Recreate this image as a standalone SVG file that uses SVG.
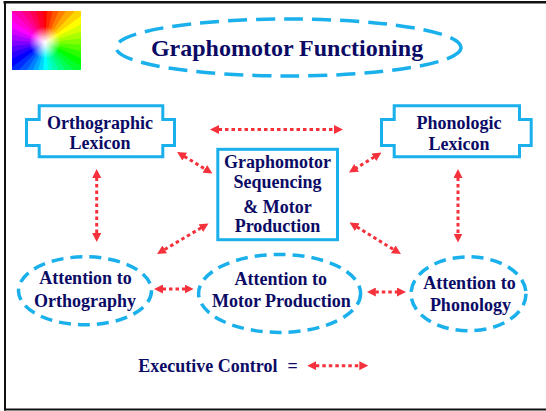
<svg xmlns="http://www.w3.org/2000/svg" xmlns:xlink="http://www.w3.org/1999/xlink" width="546" height="411" viewBox="0 0 546 411">
  <style>
    .lbl { font-family: "Liberation Serif", "Times New Roman", serif; font-weight: bold; fill: #0b0b66; text-anchor: middle; }
    .n18 { font-size: 18px; }
    .box { fill: #ffffff; stroke: #1ab0ec; stroke-width: 3; }
    .oval { fill: #ffffff; stroke: #1ab0ec; stroke-width: 3.5; stroke-dasharray: 12 7; }
    .link { fill: none; stroke: #f5323c; stroke-width: 3; stroke-dasharray: 3.5 3; marker-start: url(#head); marker-end: url(#head); }
  </style>
  <defs>
    <marker id="head" viewBox="0 0 9 9" refX="0.5" refY="4.5" markerWidth="9" markerHeight="9" markerUnits="userSpaceOnUse" orient="auto-start-reverse">
      <path d="M0,0 L9,4.5 L0,9 Z" fill="#f5323c"/>
    </marker>
    <clipPath id="iconClip"><rect x="12" y="11" width="69" height="59"/></clipPath>
    <radialGradient id="iconGlow" cx="45" cy="42.5" r="16" gradientUnits="userSpaceOnUse">
      <stop offset="0" stop-color="#ffffff" stop-opacity="1"/>
      <stop offset="0.35" stop-color="#ffffff" stop-opacity="0.7"/>
      <stop offset="1" stop-color="#ffffff" stop-opacity="0"/>
    </radialGradient>
    <path id="wedge" d="M0,0 L-6.8,-60 L6.8,-60 Z"/>
  </defs>

  <rect width="546" height="411" fill="#ffffff"/>

  <!-- frame -->
  <g id="frame" stroke="#111111" fill="none">
    <line x1="3.5" y1="2.2" x2="546" y2="2.2" stroke-width="2.6"/>
    <line x1="5" y1="1" x2="5" y2="410.5" stroke-width="2"/>
    <line x1="4" y1="409.4" x2="546" y2="409.4" stroke-width="2"/>
  </g>

  <!-- hue wheel logo -->
  <g id="logo" clip-path="url(#iconClip)">
    <rect x="12" y="11" width="69" height="59" fill="#ff00ff"/>
    <g transform="translate(45,42.5)">
      <use xlink:href="#wedge" transform="rotate(0)" fill="hsl(0,100%,50%)"/>
      <use xlink:href="#wedge" transform="rotate(10)" fill="hsl(10,100%,50%)"/>
      <use xlink:href="#wedge" transform="rotate(20)" fill="hsl(20,100%,50%)"/>
      <use xlink:href="#wedge" transform="rotate(30)" fill="hsl(30,100%,50%)"/>
      <use xlink:href="#wedge" transform="rotate(40)" fill="hsl(40,100%,50%)"/>
      <use xlink:href="#wedge" transform="rotate(50)" fill="hsl(50,100%,50%)"/>
      <use xlink:href="#wedge" transform="rotate(60)" fill="hsl(60,100%,50%)"/>
      <use xlink:href="#wedge" transform="rotate(70)" fill="hsl(70,100%,50%)"/>
      <use xlink:href="#wedge" transform="rotate(80)" fill="hsl(80,100%,50%)"/>
      <use xlink:href="#wedge" transform="rotate(90)" fill="hsl(90,100%,50%)"/>
      <use xlink:href="#wedge" transform="rotate(100)" fill="hsl(100,100%,50%)"/>
      <use xlink:href="#wedge" transform="rotate(110)" fill="hsl(110,100%,50%)"/>
      <use xlink:href="#wedge" transform="rotate(120)" fill="hsl(120,100%,50%)"/>
      <use xlink:href="#wedge" transform="rotate(130)" fill="hsl(130,100%,50%)"/>
      <use xlink:href="#wedge" transform="rotate(140)" fill="hsl(140,100%,50%)"/>
      <use xlink:href="#wedge" transform="rotate(150)" fill="hsl(150,100%,50%)"/>
      <use xlink:href="#wedge" transform="rotate(160)" fill="hsl(160,100%,50%)"/>
      <use xlink:href="#wedge" transform="rotate(170)" fill="hsl(170,100%,50%)"/>
      <use xlink:href="#wedge" transform="rotate(180)" fill="hsl(180,100%,50%)"/>
      <use xlink:href="#wedge" transform="rotate(190)" fill="hsl(190,100%,50%)"/>
      <use xlink:href="#wedge" transform="rotate(200)" fill="hsl(200,100%,50%)"/>
      <use xlink:href="#wedge" transform="rotate(210)" fill="hsl(210,100%,50%)"/>
      <use xlink:href="#wedge" transform="rotate(220)" fill="hsl(220,100%,50%)"/>
      <use xlink:href="#wedge" transform="rotate(230)" fill="hsl(230,100%,50%)"/>
      <use xlink:href="#wedge" transform="rotate(240)" fill="hsl(240,100%,50%)"/>
      <use xlink:href="#wedge" transform="rotate(250)" fill="hsl(250,100%,50%)"/>
      <use xlink:href="#wedge" transform="rotate(260)" fill="hsl(260,100%,50%)"/>
      <use xlink:href="#wedge" transform="rotate(270)" fill="hsl(270,100%,50%)"/>
      <use xlink:href="#wedge" transform="rotate(280)" fill="hsl(280,100%,50%)"/>
      <use xlink:href="#wedge" transform="rotate(290)" fill="hsl(290,100%,50%)"/>
      <use xlink:href="#wedge" transform="rotate(300)" fill="hsl(300,100%,50%)"/>
      <use xlink:href="#wedge" transform="rotate(310)" fill="hsl(310,100%,50%)"/>
      <use xlink:href="#wedge" transform="rotate(320)" fill="hsl(320,100%,50%)"/>
      <use xlink:href="#wedge" transform="rotate(330)" fill="hsl(330,100%,50%)"/>
      <use xlink:href="#wedge" transform="rotate(340)" fill="hsl(340,100%,50%)"/>
      <use xlink:href="#wedge" transform="rotate(350)" fill="hsl(350,100%,50%)"/>
    </g>
    <rect x="12" y="11" width="69" height="59" fill="url(#iconGlow)"/>
  </g>

  <!-- title -->
  <g id="title">
    <ellipse cx="288.5" cy="47.5" rx="172.5" ry="28.5" fill="#ffffff" stroke="#1ab0ec" stroke-width="3.5" stroke-dasharray="19 9"/>
    <text class="lbl" x="287" y="56" font-size="24">Graphomotor Functioning</text>
  </g>

  <!-- connectors -->
  <g id="connectors">
    <line class="link" x1="218.5" y1="129.5" x2="334.5" y2="129.5"/>
    <line class="link" x1="184.3" y1="156.4" x2="205.2" y2="169.1"/>
    <line class="link" x1="96.7" y1="177.5" x2="96.7" y2="233.5"/>
    <line class="link" x1="201.2" y1="227.8" x2="164.3" y2="249.7"/>
    <line class="link" x1="374.3" y1="157" x2="356.2" y2="168.1"/>
    <line class="link" x1="458" y1="177.5" x2="458" y2="234"/>
    <line class="link" x1="356.8" y1="226.9" x2="393.7" y2="249.6"/>
    <line class="link" x1="162.5" y1="289" x2="185.1" y2="289"/>
    <line class="link" x1="375.3" y1="292" x2="397.5" y2="292"/>
  </g>

  <!-- lexicon nodes -->
  <g id="orthographic-lexicon">
    <path class="box" d="M39.2,105.8 H162.8 V119.5 H174.5 V145.5 H162.8 V156.8 H39.2 V145.5 H26.5 V119.5 H39.2 Z"/>
    <text class="lbl n18" x="100" y="129.3">Orthographic</text>
    <text class="lbl n18" x="100" y="149.3">Lexicon</text>
  </g>

  <g id="phonologic-lexicon">
    <path class="box" d="M394.2,105.8 H519.5 V119.5 H531.2 V145.5 H519.5 V156.8 H394.2 V145.5 H381.5 V119.5 H394.2 Z"/>
    <text class="lbl n18" x="459" y="129.3">Phonologic</text>
    <text class="lbl n18" x="459" y="150">Lexicon</text>
  </g>

  <g id="graphomotor-sequencing">
    <rect class="box" x="217.8" y="149.3" width="119.7" height="90.4" stroke-width="3.5"/>
    <text class="lbl n18" x="277.5" y="167.5">Graphomotor</text>
    <text class="lbl n18" x="277.5" y="188">Sequencing</text>
    <text class="lbl n18" x="277.5" y="212.5">&amp; Motor</text>
    <text class="lbl n18" x="277.5" y="232">Production</text>
  </g>

  <!-- attention nodes -->
  <g id="attention-orthography">
    <ellipse class="oval" cx="85" cy="290.8" rx="66.5" ry="34"/>
    <text class="lbl n18" x="85.4" y="284">Attention to</text>
    <text class="lbl n18" x="85" y="307">Orthography</text>
  </g>

  <g id="attention-motor">
    <ellipse class="oval" cx="279.6" cy="293.4" rx="81" ry="39"/>
    <text class="lbl n18" x="280.8" y="285">Attention to</text>
    <text class="lbl n18" x="281.4" y="307" textLength="139" lengthAdjust="spacingAndGlyphs">Motor Production</text>
  </g>

  <g id="attention-phonology">
    <ellipse class="oval" cx="468.5" cy="293.8" rx="57.5" ry="37"/>
    <text class="lbl n18" x="469.4" y="289.2">Attention to</text>
    <text class="lbl n18" x="470.4" y="311.3">Phonology</text>
  </g>

  <!-- legend -->
  <g id="legend">
    <text class="lbl n18" x="138.3" y="372.3" style="text-anchor:start">Executive Control</text>
    <text class="lbl n18" x="287.5" y="372.3" style="text-anchor:start">=</text>
    <line class="link" x1="315.8" y1="365.7" x2="359.8" y2="365.7"/>
  </g>
</svg>
